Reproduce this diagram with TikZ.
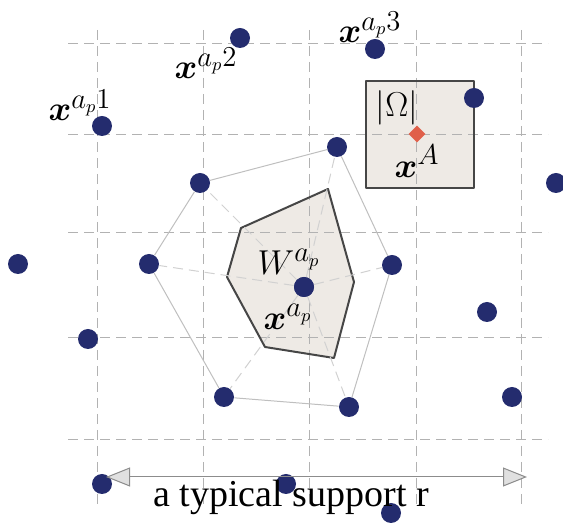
\documentclass[tikz,border=0pt]{standalone}
\usepackage{amsmath,amssymb}
\usepackage{fontspec}
\newfontfamily\capfont{Liberation Serif}
\usetikzlibrary{arrows.meta}
\usetikzlibrary{shapes.geometric}
\definecolor{DotBlue}{RGB}{36,44,110}
\definecolor{MarkRed}{RGB}{224,96,74}
\definecolor{CellFill}{RGB}{238,234,229}
\definecolor{EdgeGray}{RGB}{70,70,70}
\tikzset{
	gridline/.style={black!30, thin, dash pattern=on 5pt off 3pt},
	hexedge/.style={black!25, line width=0.5pt},
	spoke/.style={black!18, line width=0.5pt, dash pattern=on 5pt off 3pt},
	cellfill/.style={fill=CellFill},
	celledge/.style={draw=EdgeGray, line width=1pt, line join=round},
	dot/.style={circle, fill=DotBlue, inner sep=0pt, minimum size=10pt},
	redmark/.style={diamond, fill=MarkRed, inner sep=0pt, minimum size=8.5pt},
	lbl/.style={font=\fontsize{19}{22}\selectfont, inner sep=0pt},
	support/.style={black!45, line width=0.5pt,
		{Triangle[length=12pt, width=9.5pt, fill=black!12]}-{Triangle[length=12pt, width=9.5pt, fill=black!12]}},
}

\begin{document}
\begin{tikzpicture}[x=0.5pt,y=-0.5pt]
	\useasboundingbox (0,0) rectangle (563,523);
	
	% Shaded box and Voronoi cell W
	\fill[cellfill] (366,81) rectangle (474,188);
	\fill[cellfill] (328,189) -- (241,228) -- (227,277) -- (265,347) -- (334,358) -- (354,282) -- cycle;
	
	% Grid
	\foreach \gx in {97,203,309,416,521}
		\draw[gridline] (\gx,30) -- (\gx,505);
	\foreach \gy in {43,134,232,337,439}
		\draw[gridline] (68,\gy) -- (548,\gy);
	
	% Outlines
	\draw[celledge] (366,81) rectangle (474,188);
	\draw[celledge] (328,189) -- (241,228) -- (227,277) -- (265,347) -- (334,358) -- (354,282) -- cycle;
	
	% Particles
	\node[dot] (c)  at (304,287) {};
	\node[dot] (h1) at (337,147) {};
	\node[dot] (h2) at (200,183) {};
	\node[dot] (h3) at (149,264) {};
	\node[dot] (h4) at (224,397) {};
	\node[dot] (h5) at (349,407) {};
	\node[dot] (h6) at (392,265) {};
	\node[dot] (p1) at (102,126) {};
	\node[dot] (p2) at (240,38) {};
	\node[dot] (p3) at (375,49) {};
	\node[dot] (p4) at (474,98) {};
	\node[dot] (p5) at (556,183) {};
	\node[dot] (p6) at (18,264) {};
	\node[dot] (p7) at (487,312) {};
	\node[dot] (p8) at (88,339) {};
	\node[dot] (p9) at (512,397) {};
	\node[dot] (p10) at (102,484) {};
	\node[dot] (p11) at (286,484) {};
	\node[dot] (p12) at (391,513) {};
	
	% Neighbour ring
	\draw[hexedge] (h1) -- (h2) -- (h3) -- (h4) -- (h5) -- (h6) -- (h1);
	\foreach \h in {h1,h2,h3,h4,h5,h6}
		\draw[spoke] (c) -- (\h);
	\node[dot] at (c) {};
	
	% Quadrature point
	\node[redmark] (xA) at (417,134) {};
	
	% Labels
	\node[lbl] (l1) at (80,105) {$\boldsymbol{x}^{a_p1}$};
	\node[lbl] (l2) at (206,63) {$\boldsymbol{x}^{a_p2}$};
	\node[lbl] (l3) at (370,27) {$\boldsymbol{x}^{a_p3}$};
	\node[lbl] (lom) at (397,108) {$|\Omega|$};
	\node[lbl] (lxA) at (417,161) {$\boldsymbol{x}^{A}$};
	\node[lbl] (lW) at (289,262) {$W^{a_p}$};
	\node[lbl] (lx) at (288,317) {$\boldsymbol{x}^{a_p}$};
	
	% Support size
	\coordinate (sL) at (106,477);
	\coordinate (sR) at (527,477);
	\draw[support] (sL) -- (sR);
	\node[lbl, font=\capfont\fontsize{19}{22}\selectfont] (cap) at (291,497) {a typical support r};
	
\end{tikzpicture}
\end{document}
